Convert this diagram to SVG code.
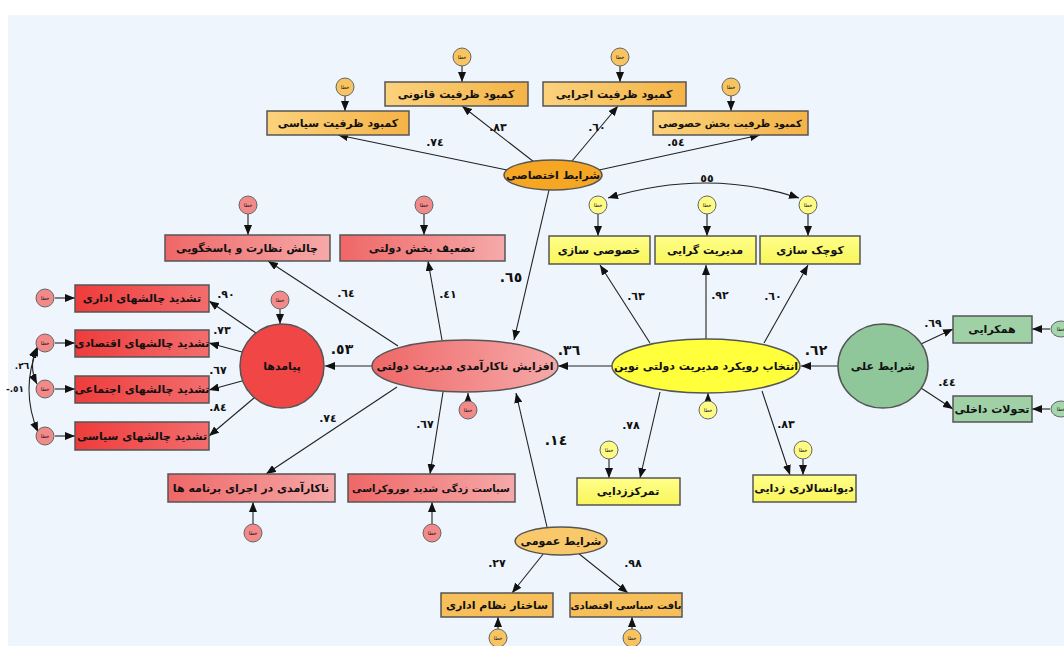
<svg xmlns="http://www.w3.org/2000/svg" width="1064" height="646" viewBox="0 0 1064 646">
<style>
text{font-family:"DejaVu Sans","Noto Sans",sans-serif;font-weight:bold;fill:#111;text-anchor:middle;dominant-baseline:central}
.t{font-size:11px}
.s{font-size:10px}
.e{font-size:5px;font-weight:normal}
.n{font-size:11px;unicode-bidi:bidi-override;direction:ltr}
.nb{font-size:14px;unicode-bidi:bidi-override;direction:ltr}
.box{stroke:#555;stroke-width:1.5}
.ln{stroke:#222;stroke-width:1.1;fill:none;marker-end:url(#ah)}
.cv{stroke:#222;stroke-width:1.1;fill:none;marker-end:url(#ah);marker-start:url(#ah)}
.eo{fill:#f7c461;stroke:#666;stroke-width:1}
.ep{fill:#f28a8a;stroke:#666;stroke-width:1}
.ey{fill:#fdfb84;stroke:#666;stroke-width:1}
.eg{fill:#a6d6ac;stroke:#666;stroke-width:1}
</style>
<defs>
<marker id="ah" viewBox="0 0 10 8" refX="10" refY="4" markerWidth="10" markerHeight="8" markerUnits="userSpaceOnUse" orient="auto-start-reverse"><path d="M0,0 L10,4 L0,8 Z" fill="#111"/></marker>
<linearGradient id="gO" x1="0" x2="1" y1="0" y2="0"><stop offset="0" stop-color="#fbd27c"/><stop offset="1" stop-color="#f5b347"/></linearGradient>
<linearGradient id="gP" x1="0" x2="1" y1="0" y2="0"><stop offset="0" stop-color="#ef6767"/><stop offset="1" stop-color="#f6a9a9"/></linearGradient>
<linearGradient id="gR" x1="0" x2="1" y1="0" y2="0"><stop offset="0" stop-color="#ee3c3c"/><stop offset="1" stop-color="#f36d6d"/></linearGradient>
<linearGradient id="gY" x1="0" x2="0" y1="0" y2="1"><stop offset="0" stop-color="#ffff8a"/><stop offset="1" stop-color="#f9f55a"/></linearGradient>
</defs>
<rect x="0" y="0" width="1064" height="646" fill="#ffffff"/>
<rect x="8" y="15" width="1056" height="631" fill="#eef5fc"/>

<g id="connectors">
<line class="ln" x1="507" y1="170" x2="338" y2="135"/>
<line class="ln" x1="534" y1="162" x2="462" y2="106"/>
<line class="ln" x1="572" y1="161" x2="618" y2="106"/>
<line class="ln" x1="599" y1="170" x2="760" y2="135"/>
<line class="ln" x1="549" y1="190" x2="514" y2="340"/>
<line class="ln" x1="398" y1="346" x2="268" y2="261"/>
<line class="ln" x1="442" y1="340" x2="428" y2="261"/>
<line class="ln" x1="372" y1="366" x2="325" y2="366"/>
<line class="ln" x1="397" y1="387" x2="266" y2="474"/>
<line class="ln" x1="443" y1="392" x2="430" y2="474"/>
<line class="ln" x1="256" y1="333" x2="209" y2="301"/>
<line class="ln" x1="242" y1="352" x2="209" y2="343"/>
<line class="ln" x1="242" y1="381" x2="209" y2="390"/>
<line class="ln" x1="254" y1="398" x2="209" y2="436"/>
<line class="ln" x1="612" y1="366" x2="558" y2="366"/>
<line class="ln" x1="650" y1="343" x2="600" y2="265"/>
<line class="ln" x1="706" y1="339" x2="706" y2="265"/>
<line class="ln" x1="764" y1="343" x2="808" y2="265"/>
<line class="ln" x1="660" y1="392" x2="640" y2="478"/>
<line class="ln" x1="762" y1="391" x2="790" y2="475"/>
<line class="ln" x1="838" y1="366" x2="801" y2="366"/>
<line class="ln" x1="921" y1="344" x2="953" y2="329"/>
<line class="ln" x1="921" y1="388" x2="953" y2="409"/>
<line class="ln" x1="547" y1="527" x2="516" y2="393"/>
<line class="ln" x1="544" y1="553" x2="512" y2="593"/>
<line class="ln" x1="578" y1="553" x2="628" y2="593"/>
<line class="ln" x1="345" y1="96" x2="345" y2="111"/>
<line class="ln" x1="462" y1="66" x2="462" y2="82"/>
<line class="ln" x1="620" y1="66" x2="620" y2="82"/>
<line class="ln" x1="731" y1="96" x2="731" y2="111"/>
<line class="ln" x1="248" y1="214" x2="248" y2="235"/>
<line class="ln" x1="424" y1="214" x2="424" y2="235"/>
<line class="ln" x1="280" y1="309" x2="280" y2="324"/>
<line class="ln" x1="468" y1="401" x2="468" y2="393"/>
<line class="ln" x1="253" y1="524" x2="253" y2="502"/>
<line class="ln" x1="432" y1="524" x2="432" y2="502"/>
<line class="ln" x1="55" y1="298" x2="75" y2="298"/>
<line class="ln" x1="55" y1="343" x2="75" y2="343"/>
<line class="ln" x1="55" y1="389" x2="75" y2="389"/>
<line class="ln" x1="55" y1="436" x2="75" y2="436"/>
<line class="ln" x1="598" y1="214" x2="598" y2="236"/>
<line class="ln" x1="707" y1="214" x2="707" y2="236"/>
<line class="ln" x1="808" y1="214" x2="808" y2="236"/>
<line class="ln" x1="708" y1="401" x2="708" y2="393"/>
<line class="ln" x1="609" y1="459" x2="609" y2="478"/>
<line class="ln" x1="803" y1="459" x2="803" y2="475"/>
<line class="ln" x1="1050" y1="329" x2="1032" y2="329"/>
<line class="ln" x1="1050" y1="409" x2="1032" y2="409"/>
<line class="ln" x1="498" y1="629" x2="498" y2="617"/>
<line class="ln" x1="632" y1="629" x2="632" y2="617"/>
<path class="cv" d="M608,198 Q707,168 799,198"/>
<path class="cv" d="M37,348 Q28,366 37,384"/>
<path class="cv" d="M38,346 Q20,390 38,432"/>
</g>

<g id="labels">
<text class="n" x="435" y="142">.٧٤</text>
<text class="n" x="498" y="127">.٨٣</text>
<text class="n" x="597" y="127">.٦٠</text>
<text class="n" x="676" y="142">.٥٤</text>
<text class="n" x="707" y="178">٥٥</text>
<text class="n" x="346" y="293">.٦٤</text>
<text class="n" x="448" y="294">.٤١</text>
<text class="nb" x="511" y="277">.٦٥</text>
<text class="n" x="226" y="294">.٩٠</text>
<text class="n" x="222" y="330">.٧٣</text>
<text class="n" x="218" y="370">.٦٧</text>
<text class="n" x="218" y="407">.٨٤</text>
<text class="nb" x="342" y="349">.٥٣</text>
<text class="n" x="328" y="418">.٧٤</text>
<text class="n" x="425" y="424">.٦٧</text>
<text class="n" x="636" y="296">.٦٣</text>
<text class="n" x="720" y="295">.٩٢</text>
<text class="n" x="773" y="296">.٦٠</text>
<text class="nb" x="569" y="350">.٣٦</text>
<text class="nb" x="816" y="350">.٦٢</text>
<text class="n" x="631" y="425">.٧٨</text>
<text class="n" x="786" y="424">.٨٣</text>
<text class="n" x="933" y="323">.٦٩</text>
<text class="n" x="947" y="382">.٤٤</text>
<text class="nb" x="556" y="440">.١٤</text>
<text class="n" x="497" y="563">.٢٧</text>
<text class="n" x="633" y="563">.٩٨</text>
<text class="n" x="22" y="366" style="font-size:9px">.٢٦</text>
<text class="n" x="15" y="389" style="font-size:9px">-.٥١</text>
</g>

<g id="n-specific"><ellipse cx="553" cy="175" rx="49" ry="15" fill="#f5a623" stroke="#555" stroke-width="1.5"/><text class="t" x="553" y="175">شرایط اختصاصی</text></g>
<g id="n-pol"><rect class="box" x="267" y="111" width="142" height="24" fill="url(#gO)"/><text class="t" x="338" y="123">کمبود ظرفیت سیاسی</text></g>
<g id="n-law"><rect class="box" x="385" y="82" width="143" height="24" fill="url(#gO)"/><text class="t" x="456" y="94">کمبود ظرفیت قانونی</text></g>
<g id="n-exe"><rect class="box" x="543" y="82" width="143" height="24" fill="url(#gO)"/><text class="t" x="614" y="94">کمبود ظرفیت اجرایی</text></g>
<g id="n-priv"><rect class="box" x="653" y="111" width="155" height="24" fill="url(#gO)"/><text class="s" x="730" y="123">کمبود ظرفیت بخش خصوصی</text></g>
<g id="err-o1"><circle class="eo" cx="345" cy="87" r="9"/><text class="e" x="345" y="87">خطا</text></g>
<g id="err-o2"><circle class="eo" cx="462" cy="57" r="9"/><text class="e" x="462" y="57">خطا</text></g>
<g id="err-o3"><circle class="eo" cx="620" cy="57" r="9"/><text class="e" x="620" y="57">خطا</text></g>
<g id="err-o4"><circle class="eo" cx="731" cy="87" r="9"/><text class="e" x="731" y="87">خطا</text></g>

<g id="n-ineff"><ellipse cx="465" cy="366" rx="93" ry="26" fill="url(#gP)" stroke="#555" stroke-width="1.5"/><text class="t" x="465" y="366">افزایش ناکارآمدی مدیریت دولتی</text></g>
<g id="n-supervise"><rect class="box" x="165" y="235" width="165" height="26" fill="url(#gP)"/><text class="t" x="247" y="248">چالش نظارت و پاسخگویی</text></g>
<g id="n-weaken"><rect class="box" x="340" y="235" width="165" height="26" fill="url(#gP)"/><text class="t" x="422" y="248">تضعیف بخش دولتی</text></g>
<g id="n-prog"><rect class="box" x="168" y="474" width="167" height="28" fill="url(#gP)"/><text class="t" x="251" y="488">ناکارآمدی در اجرای برنامه ها</text></g>
<g id="n-bureau"><rect class="box" x="348" y="474" width="167" height="28" fill="url(#gP)"/><text class="s" x="431" y="488">سیاست زدگی شدید بوروکراسی</text></g>
<g id="err-p1"><circle class="ep" cx="248" cy="205" r="9"/><text class="e" x="248" y="205">خطا</text></g>
<g id="err-p2"><circle class="ep" cx="424" cy="205" r="9"/><text class="e" x="424" y="205">خطا</text></g>
<g id="err-p3"><circle class="ep" cx="468" cy="410" r="9"/><text class="e" x="468" y="410">خطا</text></g>
<g id="err-p4"><circle class="ep" cx="253" cy="533" r="9"/><text class="e" x="253" y="533">خطا</text></g>
<g id="err-p5"><circle class="ep" cx="432" cy="533" r="9"/><text class="e" x="432" y="533">خطا</text></g>

<g id="n-conseq"><circle cx="282" cy="366" r="42" fill="#f04646" stroke="#555" stroke-width="1.5"/><text class="t" x="282" y="366">پیامدها</text></g>
<g id="n-adm"><rect class="box" x="75" y="285" width="134" height="27" fill="url(#gR)"/><text class="t" x="142" y="298">تشدید چالشهای اداری</text></g>
<g id="n-eco"><rect class="box" x="75" y="330" width="134" height="27" fill="url(#gR)"/><text class="t" x="142" y="343">تشدید چالشهای اقتصادی</text></g>
<g id="n-soc"><rect class="box" x="75" y="376" width="134" height="27" fill="url(#gR)"/><text class="t" x="142" y="389">تشدید چالشهای اجتماعی</text></g>
<g id="n-polc"><rect class="box" x="75" y="422" width="134" height="28" fill="url(#gR)"/><text class="t" x="142" y="436">تشدید چالشهای سیاسی</text></g>
<g id="err-r0"><circle class="ep" cx="280" cy="300" r="9"/><text class="e" x="280" y="300">خطا</text></g>
<g id="err-r1"><circle class="ep" cx="45" cy="298" r="9"/><text class="e" x="45" y="298">خطا</text></g>
<g id="err-r2"><circle class="ep" cx="45" cy="343" r="9"/><text class="e" x="45" y="343">خطا</text></g>
<g id="err-r3"><circle class="ep" cx="45" cy="389" r="9"/><text class="e" x="45" y="389">خطا</text></g>
<g id="err-r4"><circle class="ep" cx="45" cy="436" r="9"/><text class="e" x="45" y="436">خطا</text></g>

<g id="n-npm"><ellipse cx="706" cy="366" rx="94" ry="27" fill="#ffff3c" stroke="#555" stroke-width="1.5"/><text class="t" x="706" y="366">انتخاب رویکرد مدیریت دولتی نوین</text></g>
<g id="n-privat"><rect class="box" x="549" y="236" width="101" height="28" fill="url(#gY)"/><text class="t" x="599" y="250">خصوصی سازی</text></g>
<g id="n-manag"><rect class="box" x="655" y="236" width="101" height="28" fill="url(#gY)"/><text class="t" x="705" y="250">مدیریت گرایی</text></g>
<g id="n-small"><rect class="box" x="760" y="236" width="100" height="28" fill="url(#gY)"/><text class="t" x="810" y="250">کوچک سازی</text></g>
<g id="n-decent"><rect class="box" x="577" y="478" width="103" height="27" fill="url(#gY)"/><text class="t" x="628" y="491">تمرکززدایی</text></g>
<g id="n-debur"><rect class="box" x="753" y="475" width="103" height="27" fill="url(#gY)"/><text class="t" x="804" y="488">دیوانسالاری زدایی</text></g>
<g id="err-y1"><circle class="ey" cx="598" cy="205" r="9"/><text class="e" x="598" y="205">خطا</text></g>
<g id="err-y2"><circle class="ey" cx="707" cy="205" r="9"/><text class="e" x="707" y="205">خطا</text></g>
<g id="err-y3"><circle class="ey" cx="808" cy="205" r="9"/><text class="e" x="808" y="205">خطا</text></g>
<g id="err-y4"><circle class="ey" cx="708" cy="410" r="9"/><text class="e" x="708" y="410">خطا</text></g>
<g id="err-y5"><circle class="ey" cx="609" cy="450" r="9"/><text class="e" x="609" y="450">خطا</text></g>
<g id="err-y6"><circle class="ey" cx="803" cy="450" r="9"/><text class="e" x="803" y="450">خطا</text></g>

<g id="n-causal"><ellipse cx="883" cy="366" rx="45" ry="42" fill="#8fc79a" stroke="#555" stroke-width="1.5"/><text class="t" x="883" y="366">شرایط علی</text></g>
<g id="n-conv"><rect class="box" x="953" y="316" width="79" height="27" fill="#9fd0a6"/><text class="t" x="992" y="329">همکرایی</text></g>
<g id="n-inner"><rect class="box" x="953" y="396" width="79" height="26" fill="#9fd0a6"/><text class="t" x="992" y="409">تحولات داخلی</text></g>
<g id="err-g1"><ellipse class="eg" cx="1061" cy="329" rx="10" ry="8"/><text class="e" x="1061" y="329">خطا</text></g>
<g id="err-g2"><ellipse class="eg" cx="1061" cy="409" rx="10" ry="8"/><text class="e" x="1061" y="409">خطا</text></g>

<g id="n-general"><ellipse cx="561" cy="541" rx="46" ry="14" fill="#f9c86a" stroke="#555" stroke-width="1.5"/><text class="t" x="561" y="541">شرایط عمومی</text></g>
<g id="n-struct"><rect class="box" x="441" y="593" width="112" height="24" fill="#f7bf5a"/><text class="t" x="497" y="605">ساختار نظام اداری</text></g>
<g id="n-fabric"><rect class="box" x="570" y="593" width="112" height="24" fill="#f7bf5a"/><text class="s" x="626" y="605">بافت سیاسی اقتصادی</text></g>
<g id="err-o5"><circle class="eo" cx="498" cy="638" r="9"/><text class="e" x="498" y="638">خطا</text></g>
<g id="err-o6"><circle class="eo" cx="632" cy="638" r="9"/><text class="e" x="632" y="638">خطا</text></g>
</svg>
